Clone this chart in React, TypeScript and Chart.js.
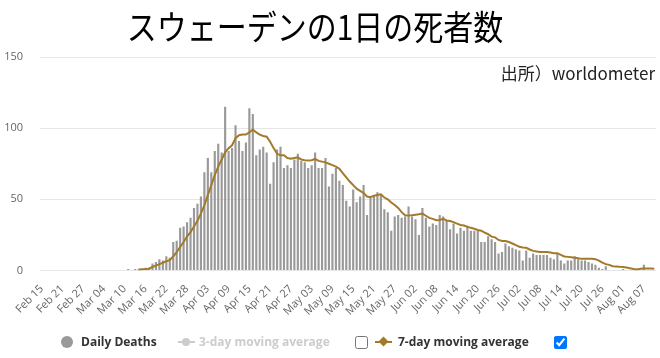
import React, { useEffect, useRef } from "react";
import { Chart, registerables } from "chart.js";

Chart.register(...registerables);

const TITLE = "スウェーデンの1日の死者数";
const SOURCE_NOTE = "出所）worldometer";

// Category months: name, first day, last day (2020)
const MONTH_NAMES = ["Feb", "Mar", "Apr", "May", "Jun", "Jul", "Aug"];
const MONTH_FIRST = [15, 1, 1, 1, 1, 1, 1];
const MONTH_LAST = [29, 31, 30, 31, 30, 31, 10];

// Daily deaths (bars), one array per month
const deathsFeb = [0, 0, 0, 0, 0, 0, 0, 0, 0, 0, 0, 0, 0, 0, 0];
const deathsMar = [0, 0, 0, 0, 0, 0, 0, 0, 0, 0, 1, 0, 1, 1, 1, 2, 2, 5, 6, 8, 7, 10, 9, 20, 21, 30, 31, 34, 37, 44, 47];
const deathsApr = [52, 69, 79, 69, 84, 89, 83, 115, 84, 86, 102, 91, 84, 90, 114, 110, 81, 85, 87, 83, 61, 76, 85, 87, 72, 74, 72, 78, 82, 77];
const deathsMay = [76, 72, 74, 83, 72, 72, 79, 59, 68, 72, 63, 60, 49, 45, 57, 48, 52, 60, 39, 51, 53, 55, 53, 43, 41, 28, 38, 39, 37, 38, 45];
const deathsJun = [38, 36, 25, 44, 37, 31, 33, 32, 39, 38, 35, 29, 33, 26, 30, 28, 31, 28, 28, 28, 20, 20, 24, 22, 20, 12, 13, 19, 17, 16];
const deathsJul = [15, 14, 7, 14, 9, 12, 11, 11, 11, 11, 9, 8, 12, 7, 5, 7, 7, 10, 8, 7, 7, 6, 5, 4, 2, 1, 3, 0, 0, 0, 0];
const deathsAug = [1, 0, 0, 0, 0, 0, 4, 0, 0, 0];

// 7-day moving average (line)
const avgFeb = [null, null, null, null, null, null, null, null, null, null, null, null, null, null, null];
const avgMar = [null, null, null, null, null, null, null, null, null, null, null, null, null, 0.7, 0.9, 1.0, 1.3, 2.5, 3.5, 4.5, 5.5, 6.5, 7.3, 10, 13, 16.5, 20, 24, 27, 31, 35];
const avgApr = [40, 46, 53, 60, 67, 73, 78, 83, 86, 88, 93, 95, 95.5, 95.5, 97, 99, 97, 95.5, 94.5, 94, 90.5, 86, 82, 81, 81, 79, 78.5, 79, 79.5, 78];
const avgMay = [77.5, 77.3, 77.5, 78.5, 77, 76.5, 76, 75, 74, 73, 71.5, 68.5, 65.5, 62.5, 60, 57.5, 56, 54.5, 52, 51.5, 52.5, 53, 53.5, 51.3, 50, 47.8, 46, 44, 41, 38.8, 38.6];
const avgJun = [38.8, 39.2, 39.5, 40, 38.5, 37, 36.3, 35.3, 35.5, 36.4, 35.2, 34.8, 34, 33, 32, 31.6, 30.8, 30, 29.3, 28.5, 28, 26.6, 25.5, 23.8, 23.3, 21.5, 20.7, 20.7, 20, 19];
const avgJul = [17.8, 16.7, 16.2, 16, 14.8, 13.8, 13.4, 13, 13, 13, 12.6, 12.2, 12.2, 11, 9.9, 9.6, 9.3, 9, 8.7, 8.2, 8.2, 8.2, 8.2, 8, 7, 5.5, 4.5, 4, 3, 2.8, 2.6];
const avgAug = [2.5, 2.2, 1.6, 1.1, 0.8, 1.2, 1.5, 1.5, 1.4, 1.3];

const Y_TICKS = [0, 50, 100, 150];
const TICK_EVERY = 6;

const labels: string[] = [];
MONTH_NAMES.forEach((m, i) => {
  for (let d = MONTH_FIRST[i]; d <= MONTH_LAST[i]; d++) {
    labels.push(`${m} ${String(d).padStart(2, "0")}`);
  }
});

const dailyDeaths = [...deathsFeb, ...deathsMar, ...deathsApr, ...deathsMay, ...deathsJun, ...deathsJul, ...deathsAug];
const avg7 = [...avgFeb, ...avgMar, ...avgApr, ...avgMay, ...avgJun, ...avgJul, ...avgAug];

const BAR_COLOR = "#999999";
const LINE_COLOR = "#a27a2a";

const textPlugin = {
  id: "titleAndSource",
  afterDraw(chart: any) {
    const { ctx, chartArea } = chart;
    // main title
    ctx.save();
    ctx.font = '30px "Noto Sans CJK JP"';
    ctx.fillStyle = "#000";
    ctx.textAlign = "center";
    ctx.textBaseline = "middle";
    ctx.translate(315, 27);
    ctx.scale(1, 1.15);
    ctx.fillText(TITLE, 0, 0);
    ctx.restore();
    // source note
    ctx.save();
    ctx.font = '17px "Noto Sans CJK JP"';
    ctx.fillStyle = "#222";
    ctx.textAlign = "right";
    ctx.textBaseline = "middle";
    ctx.fillText(SOURCE_NOTE, chartArea.right - 1, chartArea.top + 17);
    ctx.restore();
  },
};

export default function App() {
  const ref = useRef<HTMLCanvasElement | null>(null);

  useEffect(() => {
    if (!ref.current) return;
    const chart = new Chart(ref.current, {
      type: "bar",
      data: {
        labels,
        datasets: [
          {
            type: "line",
            label: "7-day moving average",
            data: avg7 as any,
            borderColor: LINE_COLOR,
            backgroundColor: LINE_COLOR,
            borderWidth: 2,
            pointRadius: 0,
            tension: 0,
            order: 1,
          } as any,
          {
            type: "bar",
            label: "Daily Deaths",
            data: dailyDeaths,
            backgroundColor: BAR_COLOR,
            barPercentage: 0.62,
            categoryPercentage: 1,
            order: 2,
          },
        ],
      },
      options: {
        responsive: false,
        animation: false,
        devicePixelRatio: 1,
        layout: { padding: { left: 3, right: 4, top: 57, bottom: 36 } },
        plugins: {
          legend: { display: false },
          tooltip: { enabled: false },
          title: { display: false },
        },
        scales: {
          x: {
            grid: { display: false },
            border: { display: false },
            afterFit: (axis: any) => {
              axis.paddingLeft = 0;
              axis.paddingRight = 0;
            },
            ticks: {
              autoSkip: false,
              minRotation: 45,
              maxRotation: 45,
              color: "#666",
              padding: 4,
              font: { family: '"Open Sans"', size: 11 },
              callback: (_v: any, i: number) => (i % TICK_EVERY === 0 ? labels[i] : ""),
            },
          },
          y: {
            min: 0,
            max: 150,
            afterBuildTicks: (axis: any) => {
              axis.ticks = Y_TICKS.map((v) => ({ value: v }));
            },
            afterFit: (axis: any) => {
              axis.width = 37;
            },
            grid: { color: "#e6e6e6", drawTicks: false },
            border: { display: false },
            ticks: {
              color: "#666",
              padding: 17,
              font: { family: '"Open Sans"', size: 11 },
            },
          },
        },
      },
      plugins: [textPlugin],
    });
    return () => chart.destroy();
  }, []);

  const legendText: React.CSSProperties = {
    position: "absolute",
    top: 0,
    whiteSpace: "nowrap",
    lineHeight: "16px",
  };

  return (
    <div style={{ position: "absolute", left: 0, top: 0, width: 660, height: 358, background: "#fff" }}>
      <canvas ref={ref} width={660} height={358} style={{ display: "block", width: 660, height: 358 }} />
      <div
        style={{
          position: "absolute",
          left: 0,
          top: 334,
          width: 660,
          height: 16,
          fontFamily: '"Open Sans", sans-serif',
          fontSize: 12,
          fontWeight: 700,
        }}
      >
        <span style={{ position: "absolute", left: 61, top: 2, width: 12, height: 12, borderRadius: 6, background: BAR_COLOR }} />
        <span style={{ ...legendText, left: 81, color: "#333" }}>Daily Deaths</span>

        <span style={{ position: "absolute", left: 178, top: 7, width: 17, height: 2, background: "#cccccc" }} />
        <span style={{ position: "absolute", left: 182, top: 4, width: 8, height: 8, borderRadius: 4, background: "#cccccc" }} />
        <span style={{ ...legendText, left: 199, color: "#cccccc" }}>3-day moving average</span>
        <input type="checkbox" style={{ position: "absolute", left: 355, top: 2, margin: 0, width: 13, height: 13 }} />

        <span style={{ position: "absolute", left: 375, top: 7, width: 17, height: 2, background: LINE_COLOR }} />
        <span
          style={{
            position: "absolute",
            left: 380,
            top: 4,
            width: 7,
            height: 7,
            background: LINE_COLOR,
            transform: "rotate(45deg)",
          }}
        />
        <span style={{ ...legendText, left: 398, color: "#333" }}>7-day moving average</span>
        <input type="checkbox" defaultChecked style={{ position: "absolute", left: 554, top: 2, margin: 0, width: 13, height: 13 }} />
      </div>
    </div>
  );
}
